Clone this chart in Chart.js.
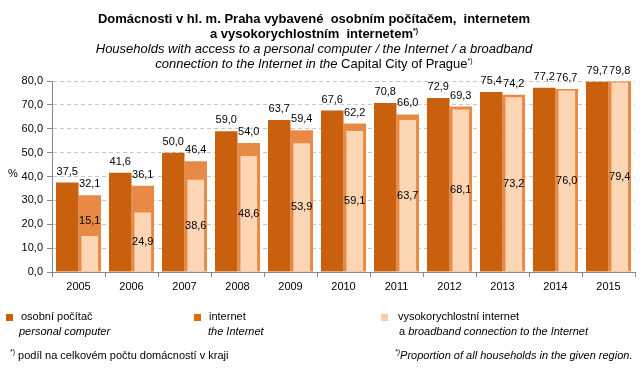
<!DOCTYPE html>
<html>
<head>
<meta charset="utf-8">
<script src="https://cdn.jsdelivr.net/npm/chart.js@4"></script>
<style>
    body { margin: 0; background: #fff; font-family: "Liberation Sans", Arial, sans-serif; color: #000; }
    #wrap { position: relative; width: 643px; height: 369px; overflow: hidden; }
    #chart { position: absolute; left: 0; top: 0; }
    .t { position: absolute; white-space: nowrap; font-size: 11px; line-height: 13px; }
    .title { left: 0; width: 628px; text-align: center; font-size: 13px; line-height: 15px; }
    .b { font-weight: bold; }
    .i { font-style: italic; }
    .sq { position: absolute; width: 7px; height: 7px; }
    sup { font-size: 7px; vertical-align: 5px; line-height: 0; }
</style>
</head>
<body>
<div id="wrap">
    <canvas id="chart" width="643" height="369"></canvas>
    <div class="t title b" style="top:11px">Domácnosti v hl. m. Praha vybavené&nbsp; osobním počítačem,&nbsp; internetem</div>
    <div class="t title b" style="top:26px">a vysokorychlostním&nbsp; internetem<sup>*)</sup></div>
    <div class="t title i" style="top:41px">Households with access to a personal computer / the Internet / a broadband</div>
    <div class="t title" style="top:56px"><span class="i">connection to the Internet in the</span> Capital City of Prague<sup>*)</sup></div>
    <div class="t" style="left:8px;top:167px">%</div>

    <div class="sq" style="left:6px;top:314px;background:#C8600E"></div>
    <div class="t" style="left:21px;top:310px">osobní počítač</div>
    <div class="t i" style="left:19px;top:325px">personal computer</div>
    <div class="sq" style="left:194px;top:314px;background:#E36C0A"></div>
    <div class="t" style="left:209px;top:310px">internet</div>
    <div class="t i" style="left:208px;top:325px">the Internet</div>
    <div class="sq" style="left:381px;top:314px;background:#F6CDB0"></div>
    <div class="t" style="left:398px;top:310px">vysokorychlostní internet</div>
    <div class="t" style="left:399px;top:325px">a <span class="i">broadband connection to the Internet</span></div>

    <div class="t" style="left:10px;top:349px"><sup>*)</sup> podíl na celkovém počtu domácností v kraji</div>
    <div class="t i" style="left:395px;top:349px"><sup>*)</sup>Proportion of all households in the given region.</div>
</div>
<script>
const years = ['2005', '2006', '2007', '2008', '2009', '2010', '2011', '2012', '2013', '2014', '2015'];
const pc = [37.5, 41.6, 50.0, 59.0, 63.7, 67.6, 70.8, 72.9, 75.4, 77.2, 79.7];
const internet = [32.1, 36.1, 46.4, 54.0, 59.4, 62.2, 66.0, 69.3, 74.2, 76.7, 79.8];
const broadband = [15.1, 24.9, 38.6, 48.6, 53.9, 59.1, 63.7, 68.1, 73.2, 76.0, 79.4];
const yTicks = [0, 10, 20, 30, 40, 50, 60, 70, 80];

const fmt = v => v.toFixed(1).replace('.', ',');

// data labels: pc/internet above the bar, broadband in the middle (above if the bar is short)
const barLabels = {
    id: 'barLabels',
    afterDatasetsDraw(chart) {
        const ctx = chart.ctx;
        ctx.save();
        ctx.font = '11px "Liberation Sans", Arial, sans-serif';
        ctx.fillStyle = '#000';
        ctx.textAlign = 'center';
        ctx.textBaseline = 'middle';
        chart.data.datasets.forEach((ds, i) => {
            const meta = chart.getDatasetMeta(i);
            meta.data.forEach((bar, j) => {
                let y;
                if (ds.labelPos === 'top') {
                    y = bar.y - 11;
                } else {
                    const h = bar.base - bar.y;
                    y = h < 45 ? bar.y - 15 : (bar.y + bar.base) / 2;
                }
                ctx.fillText(fmt(ds.data[j]), bar.x, y);
            });
        });
        ctx.restore();
    }
};

// axis border drawn solid over the dashed grid
const solidAxes = {
    id: 'solidAxes',
    afterDraw(chart) {
        const a = chart.chartArea, ctx = chart.ctx;
        ctx.save();
        ctx.strokeStyle = '#888';
        ctx.lineWidth = 1;
        ctx.beginPath();
        ctx.moveTo(a.left + 0.5, a.top);
        ctx.lineTo(a.left + 0.5, a.bottom);
        ctx.stroke();
        ctx.restore();
    }
};

new Chart(document.getElementById('chart'), {
    type: 'bar',
    data: {
        labels: years,
        datasets: [
            { label: 'osobní počítač', data: pc, stack: 'a', backgroundColor: '#C8600E',
              barPercentage: 1, labelPos: 'top' },
            { label: 'vysokorychlostní internet', data: broadband, stack: 'b', backgroundColor: '#FCD5B4',
              barPercentage: 0.74, labelPos: 'mid' },
            { label: 'internet', data: internet, stack: 'b', backgroundColor: '#E88A45',
              barPercentage: 1, labelPos: 'top' }
        ]
    },
    options: {
        responsive: false,
        animation: false,
        events: [],
        categoryPercentage: 0.85,
        layout: { padding: { top: 81, right: 8, left: 0, bottom: 0 } },
        plugins: { legend: { display: false }, tooltip: { enabled: false } },
        scales: {
            x: {
                grid: { drawOnChartArea: false, tickLength: 5, color: '#888' },
                border: { color: '#888' },
                ticks: { color: '#000', padding: 3, font: { size: 11, family: '"Liberation Sans", Arial' } },
                afterFit: s => { s.height = 97; }
            },
            y: {
                min: 0, max: 80,
                stacked: false,
                afterBuildTicks: s => { s.ticks = yTicks.map(v => ({ value: v })); },
                grid: { color: '#C8C8C8', tickLength: 5, tickColor: '#888', tickBorderDash: [] },
                border: { color: '#888', dash: [4, 3] },
                ticks: { color: '#000', padding: 4, callback: v => fmt(v),
                         font: { size: 11, family: '"Liberation Sans", Arial' } },
                afterFit: s => { s.width = 52; }
            }
        }
    },
    plugins: [barLabels, solidAxes]
});
</script>
</body>
</html>
